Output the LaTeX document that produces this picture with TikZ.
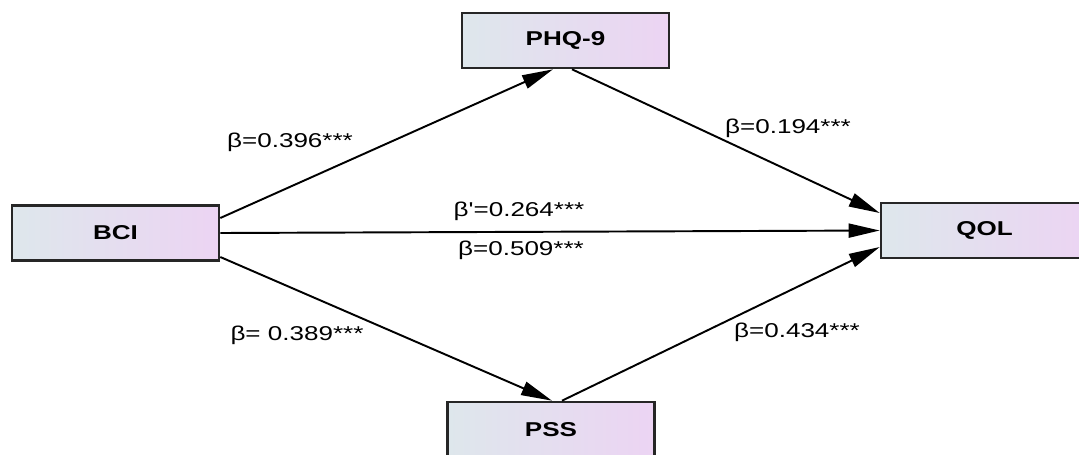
\documentclass[tikz,border=0pt]{standalone}
\usepackage{graphicx}
\usepackage{fontspec}
\setmainfont{Liberation Sans}
\usetikzlibrary{arrows.meta,calc}

\definecolor{boxleft}{RGB}{222,231,236}
\definecolor{boxright}{RGB}{236,212,243}
\tikzset{
  var/.style={draw=black!85, line width=1.5pt, left color=boxleft, right color=boxright,
    minimum width=4.14cm, minimum height=1.1cm, inner sep=0pt,
    font=\fontsize{11.4}{13}\selectfont\bfseries},
  effect/.style={-{Triangle[length=0.62cm,width=0.28cm]}, line width=1.1pt},
  coef/.style={font=\fontsize{11.4}{13}\selectfont, inner sep=0pt}
}
\newcommand{\wide}[1]{\scalebox{1.3}[1]{#1}}

\begin{document}
\begin{tikzpicture}[x=0.02cm, y=-0.02cm]
      \clip (0,0) rectangle (1079,454);
      \node[var] (BCI) at (115.5,233) {\wide{BCI}};
      \node[var] (PHQ) at (565.5,40.5) {\wide{PHQ-9}};
      \node[var] (PSS) at (551,429.5) {\wide{PSS}};
      \node[var] (QOL) at (984.5,230.5) {\wide{QOL}};
      \draw[effect] ($(BCI.east)+(0,-15)$) -- ($(PHQ.south)+(-12.5,0)$);
      \draw[effect] (BCI.east) -- (QOL.west);
      \draw[effect] ($(BCI.east)+(0,24)$) -- ($(PSS.north)+(1,0)$);
      \draw[effect] ($(PHQ.south)+(6.5,0)$) -- ($(QOL.west)+(0,-17.5)$);
      \draw[effect] ($(PSS.north)+(11,0)$) -- ($(QOL.west)+(0,16.5)$);
      \node[coef] (bPHQ) at (290,142) {\wide{β=0.396***}};
      \node[coef] (bDir) at (519,211) {\wide{β\textquotesingle=0.264***}};
      \node[coef] (bTot) at (521,250) {\wide{β=0.509***}};
      \node[coef] (bQ1) at (788,128) {\wide{β=0.194***}};
      \node[coef] (bPSS) at (297,335) {\wide{β= 0.389***}};
      \node[coef] (bQ2) at (797,332) {\wide{β=0.434***}};
\end{tikzpicture}
\end{document}
